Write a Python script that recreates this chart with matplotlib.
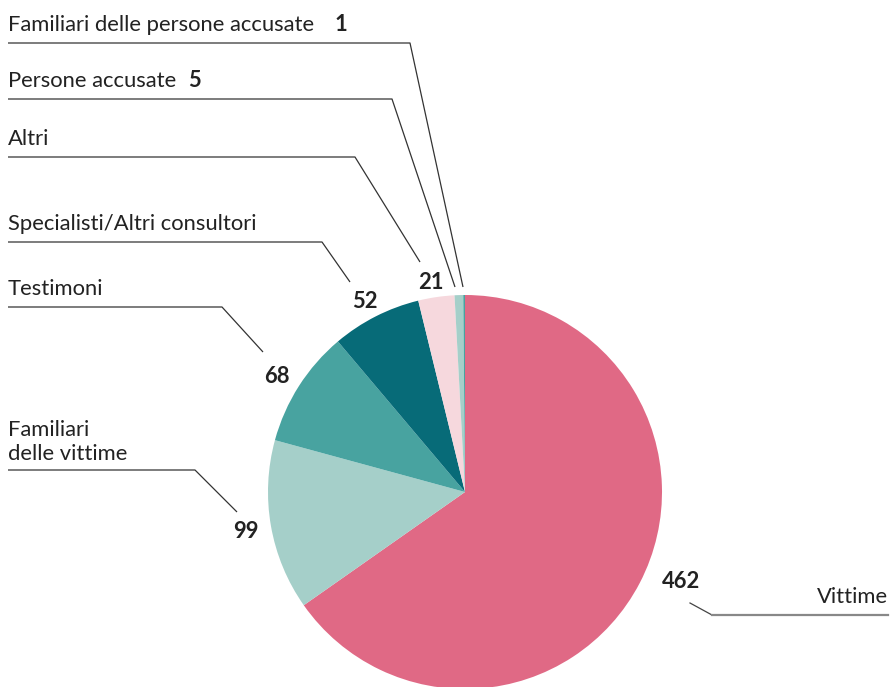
import matplotlib
matplotlib.use('Agg')

import matplotlib.pyplot as plt

# data
labels = ['Vittime', 'Familiari\ndelle vittime', 'Testimoni', 'Specialisti/Altri consultori',
          'Altri', 'Persone accusate', 'Familiari delle persone accusate']
values = [462, 99, 68, 52, 21, 5, 1]
colors = ['#E06985', '#A5CFC9', '#48A3A0', '#076B78', '#F6D8DD', '#A5CFC9', '#48A3A0']

W, H = 890, 687
fig = plt.figure(figsize=(W / 100, H / 100), dpi=100)
ax = fig.add_axes([0, 0, 1, 1])

cx, cy, r = 465, H - 492, 197
ax.pie(values, colors=colors, startangle=90, counterclock=False,
       center=(cx, cy), radius=r, wedgeprops=dict(linewidth=0))
ax.set_xlim(0, W)
ax.set_ylim(0, H)
ax.set_aspect('equal')
ax.axis('off')

font = 'Lato'
fs = 15.8
lc = '#333333'
tc = '#222222'

def y(p):
    return H - p

# leader lines in pixel coordinates (top-origin)
leaders = [
    [(8, 43), (410, 43), (463, 287)],
    [(8, 99), (392, 99), (455, 287)],
    [(8, 157), (355, 157), (420, 262)],
    [(8, 242), (322, 242), (350, 282)],
    [(8, 307), (222, 307), (263, 352)],
    [(8, 470), (195, 470), (237, 512)],
]
for pts in leaders:
    ax.plot([p[0] for p in pts], [y(p[1]) for p in pts], color=lc, lw=0.9,
            solid_capstyle='butt')
ax.plot([690, 712], [y(603), y(615)], color='#444444', lw=0.9)
ax.plot([712, 888], [y(615), y(615)], color='#888888', lw=1.6)

# category labels
ax.text(8, y(31), labels[6], fontsize=fs, family=font, color=tc, va='baseline')
ax.text(8, y(87), labels[5], fontsize=fs, family=font, color=tc, va='baseline')
ax.text(8, y(145), labels[4], fontsize=fs, family=font, color=tc, va='baseline')
ax.text(8, y(230), labels[3], fontsize=fs, family=font, color=tc, va='baseline')
ax.text(8, y(295), labels[2], fontsize=fs, family=font, color=tc, va='baseline')
ax.text(8, y(460), labels[1], fontsize=fs, family=font, color=tc, va='baseline',
        linespacing=1.25)
ax.text(888, y(603), labels[0], fontsize=fs, family=font, color=tc, va='baseline',
        ha='right')

# value labels
ax.text(335, y(31), str(values[6]), fontsize=fs, family=font, weight='bold', color=tc)
ax.text(188, y(87), str(values[5]), fontsize=fs, family=font, weight='bold', color=tc)
ax.text(431, y(289), str(values[4]), fontsize=fs, family=font, weight='bold', color=tc, ha='center')
ax.text(365, y(308), str(values[3]), fontsize=fs, family=font, weight='bold', color=tc, ha='center')
ax.text(277, y(383), str(values[2]), fontsize=fs, family=font, weight='bold', color=tc, ha='center')
ax.text(246, y(538), str(values[1]), fontsize=fs, family=font, weight='bold', color=tc, ha='center')
ax.text(681, y(588), str(values[0]), fontsize=fs, family=font, weight='bold', color=tc, ha='center')

plt.savefig('out.png', dpi=100)
